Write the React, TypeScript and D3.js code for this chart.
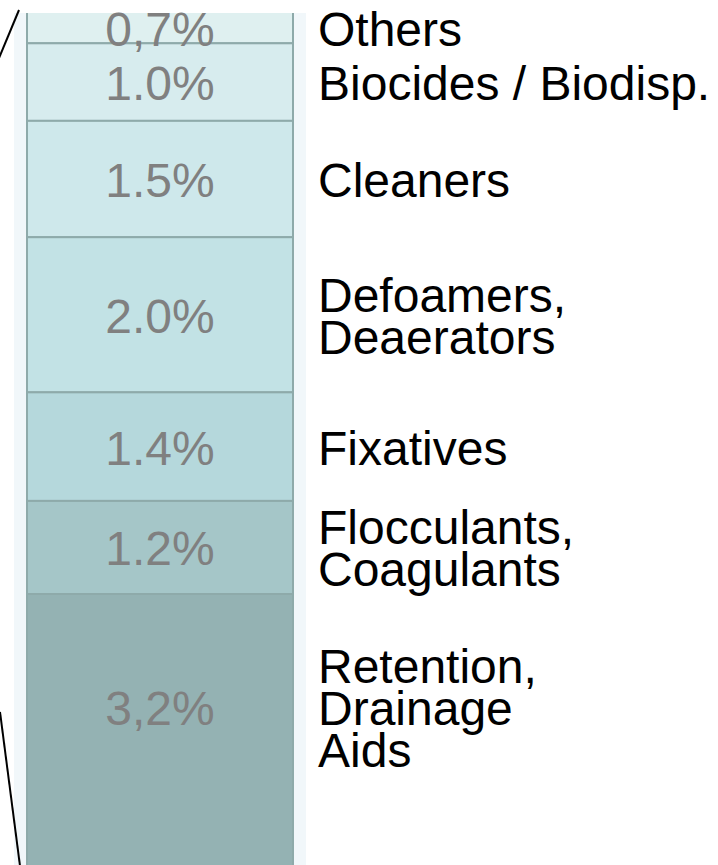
import React from 'react';
import * as d3 from 'd3';

const categories = [
  'Others',
  'Biocides / Biodisp.',
  'Cleaners',
  'Defoamers, Deaerators',
  'Fixatives',
  'Flocculants, Coagulants',
  'Retention, Drainage Aids',
];
const labelLines = [
  ['Others'],
  ['Biocides / Biodisp.'],
  ['Cleaners'],
  ['Defoamers,', 'Deaerators'],
  ['Fixatives'],
  ['Flocculants,', 'Coagulants'],
  ['Retention,', 'Drainage', 'Aids'],
];
const shares = [0.7, 1.0, 1.5, 2.0, 1.4, 1.2, 3.2];
const shareLabels = ['0,7%', '1.0%', '1.5%', '2.0%', '1.4%', '1.2%', '3,2%'];

const W = 718;
const H = 865;

const App = () => {
  const total = d3.sum(shares);
  const starts = shares.map((_, i) => d3.sum(shares.slice(0, i)));

  // bar column is a crop of a larger exploded view, so the top segment is cut off
  const y = d3.scaleLinear().domain([0, 7.8, total]).range([-11, 594, 870]);
  const x = d3.scaleBand().domain(['bar']).range([27, 293]).padding(0);

  const color = d3
    .scaleOrdinal<string, string>()
    .domain(categories)
    .range(['#dff0f0', '#d7ecee', '#cee8eb', '#c2e2e5', '#b5d8dc', '#a5c6c8', '#94b2b3']);

  const fontFamily = 'Liberation Sans, Arial, sans-serif';
  const top = 13;

  return (
    <svg width={W} height={H} style={{ position: 'absolute', left: 0, top: 0, display: 'block' }}>
      <defs>
        <clipPath id="plot">
          <rect x={0} y={top} width={W} height={H - top} />
        </clipPath>
      </defs>
      <rect x={14} y={top} width={292} height={H - top} fill="#f1f7fa" />
      <g clipPath="url(#plot)">
        {categories.map((c, i) => {
          const y0 = y(starts[i]);
          const y1 = y(starts[i] + shares[i]);
          return (
            <rect
              key={c}
              x={x('bar')}
              y={y0}
              width={x.bandwidth()}
              height={y1 - y0}
              fill={color(c)}
              stroke="#8eaaaa"
              strokeWidth={2}
            />
          );
        })}
      </g>
      {categories.map((c, i) => {
        const y0 = Math.max(y(starts[i]), top);
        const y1 = y(starts[i] + shares[i]);
        const cy = y0 + Math.min((y1 - y0) / 2, 113);
        const lines = labelLines[i];
        const first = cy - ((lines.length - 1) * 42) / 2 + 18;
        return (
          <g key={c} fontFamily={fontFamily}>
            <text
              x={x('bar')! + x.bandwidth() / 2}
              y={cy + 18}
              textAnchor="middle"
              fontSize={48}
              fill="#808080"
            >
              {shareLabels[i]}
            </text>
            <text x={318} y={first} fontSize={48} fill="#000">
              {lines.map((l, k) => (
                <tspan key={k} x={318} y={first + k * 42}>
                  {l}
                </tspan>
              ))}
            </text>
          </g>
        );
      })}
      <line x1={19} y1={10} x2={-1} y2={58} stroke="#000" strokeWidth={2} />
      <line x1={0} y1={712} x2={20} y2={866} stroke="#000" strokeWidth={2} />
    </svg>
  );
};

export default App;
